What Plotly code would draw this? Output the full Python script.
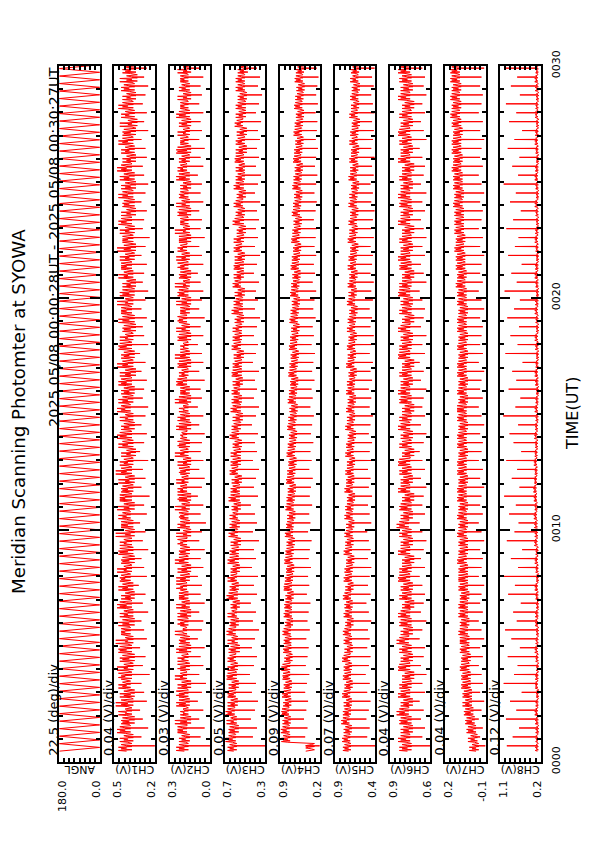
import plotly.graph_objects as go

# ---------------- data ----------------
start_sec = 28.0          # 2025 05/08 00:00:28 UT
end_sec = 1827.0          # 2025 05/08 00:30:27 UT
scan_sec = 23.06          # one photometer scan (one dip per scan)
angle_sweep_sec = 9.7     # one sweep of the scanning mirror
angle_turns = [180.0, 0.0]

ch1_base = [0.41,0.40,0.42,0.39,0.41,0.40,0.38,0.41,0.42,0.40,0.39,0.41,0.40,0.42,0.39,0.40,0.41,0.38,0.40,0.42,
            0.41,0.39,0.40,0.41,0.38,0.40,0.41,0.39,0.42,0.40,0.39,0.41,0.40,0.38,0.40,0.41,0.39,0.40,0.42,0.40,
            0.39,0.41,0.38,0.40,0.39,0.41,0.40,0.38,0.39,0.41,0.40,0.39,0.38,0.40,0.41,0.39,0.38,0.40,0.39,0.41,
            0.38,0.39,0.40,0.38,0.39,0.41,0.38,0.39,0.40,0.38,0.37,0.39,0.40,0.38,0.39,0.37,0.38,0.39]
ch1_jit = [0.45,0.43,0.46,0.44,0.42,0.45,0.43,0.44,0.47,0.43,0.44,0.46,0.42,0.45,0.44,0.43,0.46,0.42,0.44,0.45,
           0.43,0.44,0.46,0.43,0.42,0.45,0.44,0.43,0.46,0.44,0.42,0.45,0.43,0.41,0.44,0.46,0.43,0.42,0.45,0.44,
           0.43,0.45,0.42,0.44,0.43,0.46,0.42,0.43,0.44,0.45,0.42,0.44,0.41,0.43,0.45,0.42,0.43,0.44,0.42,0.45,
           0.41,0.43,0.44,0.42,0.43,0.45,0.41,0.42,0.44,0.43,0.40,0.42,0.44,0.41,0.43,0.41,0.42,0.43]
ch1_low = [0.37,0.36,0.38,0.35,0.37,0.36,0.35,0.38,0.37,0.36,0.35,0.37,0.36,0.38,0.35,0.36,0.37,0.35,0.36,0.38,
           0.37,0.35,0.36,0.37,0.35,0.36,0.38,0.35,0.37,0.36,0.35,0.37,0.36,0.34,0.36,0.37,0.35,0.36,0.38,0.36,
           0.35,0.37,0.34,0.36,0.35,0.37,0.36,0.34,0.35,0.37,0.36,0.35,0.34,0.36,0.37,0.35,0.34,0.36,0.35,0.37,
           0.34,0.35,0.36,0.34,0.35,0.37,0.34,0.35,0.36,0.34,0.33,0.35,0.36,0.34,0.35,0.33,0.34,0.35]
ch1_high = [0.47,0.46,0.48,0.45,0.47,0.49,0.46,0.47,0.45,0.48,0.46,0.47,0.49,0.45,0.47,0.46,0.48,0.45,0.47,0.46,
            0.48,0.45,0.47,0.46,0.49,0.45,0.47,0.48,0.46,0.45,0.47,0.49,0.46,0.45,0.47,0.48,0.45,0.46,0.48,0.47,
            0.45,0.47,0.46,0.48,0.45,0.47,0.46,0.44,0.47,0.45,0.48,0.46,0.44,0.47,0.45,0.46,0.48,0.44,0.46,0.47,
            0.45,0.44,0.47,0.45,0.46,0.48,0.44,0.45,0.47,0.44,0.46,0.45,0.47,0.44,0.45,0.46,0.44,0.45]
ch1_dip = [0.20,0.30,0.25,0.29,0.31,0.26,0.28,0.30,0.24,0.29,0.27,0.31,0.26,0.28,0.30,0.25,0.29,0.27,0.32,0.26,
           0.28,0.30,0.25,0.29,0.27,0.31,0.26,0.28,0.24,0.30,0.27,0.29,0.25,0.31,0.28,0.26,0.30,0.27,0.25,0.29,
           0.28,0.26,0.30,0.27,0.31,0.25,0.28,0.29,0.26,0.30,0.27,0.25,0.29,0.28,0.26,0.30,0.27,0.24,0.29,0.28,
           0.26,0.30,0.27,0.25,0.28,0.29,0.26,0.27,0.30,0.25,0.28,0.26,0.29,0.27,0.25,0.28,0.26,0.27]

ch2_base = [0.19,0.18,0.20,0.17,0.19,0.18,0.19,0.17,0.20,0.18,0.19,0.17,0.18,0.20,0.19,0.17,0.18,0.19,0.20,0.18,
            0.17,0.19,0.18,0.20,0.17,0.18,0.19,0.18,0.17,0.20,0.19,0.18,0.17,0.19,0.18,0.20,0.17,0.18,0.19,0.17,
            0.18,0.20,0.19,0.17,0.18,0.19,0.17,0.18,0.20,0.18,0.17,0.19,0.18,0.17,0.19,0.18,0.20,0.17,0.18,0.19,
            0.17,0.18,0.19,0.17,0.18,0.20,0.18,0.17,0.19,0.18,0.17,0.18,0.19,0.17,0.18,0.19,0.17,0.18]
ch2_jit = [0.23,0.21,0.24,0.22,0.20,0.23,0.25,0.21,0.22,0.24,0.21,0.23,0.22,0.20,0.24,0.22,0.21,0.23,0.25,0.22,
           0.21,0.23,0.22,0.24,0.20,0.22,0.23,0.21,0.24,0.22,0.21,0.23,0.20,0.22,0.24,0.21,0.23,0.22,0.20,0.23,
           0.22,0.24,0.21,0.23,0.22,0.20,0.23,0.21,0.24,0.22,0.21,0.23,0.20,0.22,0.24,0.21,0.22,0.23,0.20,0.22,
           0.23,0.21,0.22,0.20,0.23,0.22,0.21,0.24,0.22,0.20,0.21,0.23,0.22,0.20,0.21,0.22,0.20,0.21]
ch2_low = [0.16,0.15,0.17,0.14,0.16,0.15,0.16,0.14,0.17,0.15,0.16,0.14,0.15,0.17,0.16,0.14,0.15,0.16,0.17,0.15,
           0.14,0.16,0.15,0.17,0.14,0.15,0.16,0.15,0.14,0.17,0.16,0.15,0.14,0.16,0.15,0.17,0.14,0.15,0.16,0.14,
           0.15,0.17,0.16,0.14,0.15,0.16,0.14,0.15,0.17,0.15,0.14,0.16,0.15,0.14,0.16,0.15,0.17,0.14,0.15,0.16,
           0.14,0.15,0.16,0.14,0.15,0.17,0.15,0.14,0.16,0.15,0.14,0.15,0.16,0.14,0.15,0.16,0.14,0.15]
ch2_high = [0.25,0.23,0.24,0.26,0.22,0.25,0.23,0.24,0.26,0.22,0.24,0.25,0.23,0.26,0.22,0.24,0.25,0.23,0.22,0.25,
            0.24,0.26,0.23,0.22,0.25,0.24,0.22,0.26,0.23,0.24,0.25,0.22,0.24,0.26,0.23,0.22,0.25,0.24,0.23,0.26,
            0.22,0.25,0.23,0.24,0.26,0.22,0.24,0.25,0.23,0.22,0.25,0.24,0.26,0.23,0.22,0.25,0.24,0.23,0.26,0.22,
            0.24,0.25,0.23,0.22,0.25,0.24,0.23,0.25,0.22,0.24,0.23,0.25,0.22,0.24,0.23,0.22,0.24,0.23]
ch2_dip = [0.00,0.07,0.04,0.08,0.05,0.09,0.06,0.03,0.08,0.05,0.07,0.04,0.09,0.06,0.05,0.08,0.04,0.07,0.06,0.09,
           0.05,0.07,0.04,0.08,0.06,0.03,0.07,0.05,0.09,0.06,0.04,0.08,0.05,0.07,0.06,0.04,0.08,0.05,0.09,0.06,
           0.07,0.04,0.08,0.05,0.06,0.09,0.05,0.07,0.04,0.08,0.06,0.05,0.07,0.09,0.05,0.06,0.08,0.04,0.07,0.06,
           0.08,0.05,0.07,0.06,0.09,0.05,0.07,0.04,0.08,0.06,0.07,0.05,0.08,0.06,0.07,0.05,0.08,0.06]

ch3_base = [0.61,0.62,0.60,0.61,0.63,0.60,0.61,0.59,0.62,0.60,0.61,0.59,0.60,0.62,0.59,0.60,0.58,0.61,0.59,0.60,
            0.58,0.60,0.59,0.57,0.60,0.58,0.59,0.57,0.59,0.58,0.56,0.59,0.57,0.58,0.56,0.58,0.57,0.55,0.58,0.56,
            0.57,0.55,0.57,0.56,0.54,0.57,0.55,0.56,0.54,0.56,0.55,0.53,0.56,0.54,0.55,0.53,0.55,0.54,0.52,0.55,
            0.53,0.54,0.52,0.55,0.53,0.52,0.54,0.52,0.53,0.51,0.54,0.52,0.53,0.51,0.52,0.53,0.51,0.52]
ch3_jit = [0.65,0.66,0.65,0.64,0.67,0.64,0.66,0.63,0.67,0.64,0.65,0.64,0.63,0.66,0.64,0.63,0.62,0.66,0.63,0.64,
           0.62,0.65,0.63,0.61,0.64,0.63,0.62,0.61,0.64,0.62,0.60,0.63,0.62,0.61,0.60,0.63,0.61,0.59,0.62,0.61,
           0.61,0.59,0.62,0.60,0.58,0.61,0.60,0.59,0.58,0.61,0.59,0.57,0.60,0.58,0.60,0.57,0.59,0.58,0.56,0.60,
           0.57,0.59,0.56,0.59,0.57,0.56,0.59,0.56,0.57,0.55,0.58,0.56,0.57,0.55,0.57,0.57,0.55,0.56]
ch3_low = [0.58,0.59,0.56,0.58,0.60,0.57,0.59,0.56,0.58,0.57,0.59,0.55,0.57,0.59,0.56,0.58,0.55,0.57,0.56,0.58,
           0.55,0.56,0.56,0.54,0.57,0.55,0.57,0.54,0.55,0.55,0.53,0.57,0.54,0.54,0.53,0.56,0.54,0.52,0.54,0.53,
           0.55,0.52,0.53,0.53,0.51,0.54,0.53,0.53,0.51,0.52,0.52,0.50,0.54,0.51,0.51,0.50,0.53,0.51,0.49,0.51,
           0.50,0.52,0.49,0.51,0.50,0.50,0.51,0.48,0.50,0.48,0.52,0.49,0.49,0.48,0.50,0.50,0.47,0.49]
ch3_high = [0.67,0.69,0.66,0.68,0.69,0.67,0.67,0.66,0.68,0.67,0.67,0.66,0.67,0.68,0.65,0.67,0.64,0.68,0.65,0.67,
            0.64,0.67,0.65,0.64,0.66,0.65,0.65,0.63,0.66,0.64,0.63,0.65,0.64,0.64,0.62,0.65,0.63,0.62,0.64,0.63,
            0.63,0.62,0.63,0.62,0.61,0.63,0.62,0.62,0.60,0.63,0.61,0.60,0.62,0.61,0.61,0.60,0.61,0.61,0.58,0.62,
            0.59,0.61,0.58,0.61,0.59,0.59,0.60,0.59,0.59,0.58,0.60,0.59,0.59,0.57,0.59,0.59,0.57,0.58]
ch3_dip = [0.30,0.42,0.38,0.44,0.40,0.37,0.43,0.39,0.45,0.41,0.38,0.43,0.40,0.36,0.42,0.39,0.44,0.38,0.41,0.37,
           0.43,0.39,0.41,0.36,0.42,0.38,0.40,0.44,0.37,0.41,0.39,0.36,0.42,0.38,0.40,0.37,0.43,0.39,0.36,0.41,
           0.38,0.40,0.36,0.42,0.39,0.37,0.41,0.38,0.35,0.40,0.37,0.39,0.36,0.41,0.38,0.35,0.40,0.37,0.39,0.36,
           0.38,0.35,0.40,0.37,0.34,0.39,0.36,0.38,0.35,0.37,0.34,0.39,0.36,0.33,0.37,0.35,0.38,0.34]

ch4_base = [0.45,0.76,0.78,0.75,0.77,0.74,0.76,0.73,0.75,0.77,0.72,0.74,0.73,0.75,0.71,0.73,0.72,0.70,0.73,0.71,
            0.69,0.72,0.70,0.68,0.71,0.69,0.67,0.70,0.68,0.66,0.69,0.67,0.65,0.68,0.66,0.64,0.67,0.65,0.63,0.66,
            0.64,0.62,0.65,0.63,0.61,0.64,0.62,0.60,0.63,0.61,0.59,0.62,0.60,0.58,0.61,0.59,0.57,0.60,0.58,0.56,
            0.59,0.57,0.55,0.58,0.56,0.54,0.57,0.55,0.53,0.56,0.54,0.52,0.55,0.53,0.51,0.54,0.52,0.51]
ch4_jit = [0.35,0.84,0.85,0.82,0.86,0.81,0.83,0.80,0.84,0.85,0.79,0.82,0.81,0.83,0.78,0.81,0.80,0.77,0.82,0.78,
           0.77,0.80,0.78,0.75,0.79,0.77,0.74,0.78,0.76,0.73,0.77,0.74,0.73,0.76,0.73,0.71,0.75,0.72,0.70,0.74,
           0.71,0.70,0.73,0.70,0.68,0.72,0.69,0.67,0.71,0.68,0.66,0.70,0.67,0.65,0.69,0.66,0.64,0.68,0.65,0.63,
           0.67,0.64,0.62,0.66,0.63,0.61,0.65,0.62,0.60,0.64,0.61,0.59,0.63,0.60,0.58,0.62,0.59,0.58]
ch4_low = [0.30,0.72,0.73,0.71,0.74,0.70,0.71,0.69,0.72,0.72,0.68,0.70,0.70,0.71,0.67,0.69,0.69,0.66,0.69,0.67,
           0.65,0.68,0.66,0.64,0.67,0.66,0.63,0.66,0.64,0.62,0.65,0.63,0.61,0.64,0.62,0.60,0.63,0.61,0.59,0.62,
           0.60,0.58,0.61,0.59,0.57,0.60,0.58,0.56,0.59,0.57,0.55,0.58,0.56,0.54,0.57,0.55,0.53,0.56,0.54,0.52,
           0.55,0.53,0.51,0.54,0.52,0.50,0.53,0.51,0.49,0.52,0.50,0.48,0.51,0.49,0.47,0.50,0.48,0.47]
ch4_high = [0.40,0.87,0.88,0.85,0.87,0.84,0.86,0.83,0.85,0.87,0.82,0.84,0.83,0.85,0.81,0.83,0.82,0.80,0.83,0.81,
            0.79,0.82,0.80,0.78,0.81,0.79,0.77,0.80,0.78,0.76,0.79,0.77,0.75,0.78,0.76,0.74,0.77,0.75,0.73,0.76,
            0.74,0.72,0.75,0.73,0.71,0.74,0.72,0.70,0.73,0.71,0.69,0.72,0.70,0.68,0.71,0.69,0.67,0.70,0.68,0.66,
            0.69,0.67,0.65,0.68,0.66,0.64,0.67,0.65,0.63,0.66,0.64,0.62,0.65,0.63,0.61,0.64,0.62,0.61]
ch4_dip = [0.21,0.46,0.42,0.48,0.44,0.41,0.46,0.43,0.39,0.45,0.42,0.40,0.44,0.38,0.42,0.40,0.37,0.43,0.39,0.41,
           0.36,0.40,0.38,0.35,0.41,0.37,0.39,0.34,0.38,0.36,0.33,0.39,0.35,0.37,0.32,0.36,0.34,0.31,0.37,0.33,
           0.35,0.30,0.34,0.32,0.29,0.35,0.31,0.33,0.28,0.32,0.30,0.27,0.33,0.29,0.31,0.27,0.30,0.28,0.26,0.31,
           0.28,0.26,0.30,0.27,0.25,0.29,0.27,0.24,0.28,0.26,0.25,0.28,0.24,0.27,0.25,0.23,0.26,0.24]

ch5_base = [0.73,0.74,0.72,0.75,0.73,0.72,0.74,0.71,0.73,0.72,0.74,0.71,0.72,0.73,0.70,0.72,0.71,0.73,0.70,0.72,
            0.71,0.69,0.72,0.70,0.71,0.69,0.71,0.70,0.68,0.71,0.69,0.70,0.68,0.70,0.69,0.67,0.70,0.68,0.69,0.67,
            0.69,0.68,0.66,0.69,0.67,0.68,0.66,0.68,0.67,0.65,0.68,0.66,0.67,0.65,0.67,0.66,0.64,0.67,0.65,0.66,
            0.64,0.66,0.65,0.63,0.66,0.64,0.65,0.63,0.65,0.64,0.62,0.65,0.63,0.64,0.62,0.64,0.63,0.62]
ch5_jit = [0.78,0.79,0.77,0.80,0.78,0.76,0.79,0.76,0.78,0.77,0.79,0.75,0.77,0.78,0.75,0.77,0.76,0.78,0.74,0.77,
           0.76,0.74,0.77,0.75,0.76,0.73,0.76,0.75,0.73,0.76,0.74,0.75,0.72,0.75,0.74,0.72,0.75,0.72,0.74,0.72,
           0.74,0.72,0.71,0.74,0.71,0.73,0.71,0.72,0.72,0.70,0.73,0.70,0.72,0.70,0.71,0.71,0.69,0.72,0.69,0.71,
           0.69,0.71,0.69,0.68,0.71,0.68,0.70,0.68,0.69,0.69,0.67,0.70,0.67,0.69,0.67,0.68,0.68,0.66]
ch5_low = [0.70,0.71,0.69,0.72,0.70,0.69,0.71,0.68,0.70,0.69,0.71,0.68,0.69,0.70,0.67,0.69,0.68,0.70,0.67,0.69,
           0.68,0.66,0.69,0.67,0.68,0.66,0.68,0.67,0.65,0.68,0.66,0.67,0.65,0.67,0.66,0.64,0.67,0.65,0.66,0.64,
           0.66,0.65,0.63,0.66,0.64,0.65,0.63,0.65,0.64,0.62,0.65,0.63,0.64,0.62,0.64,0.63,0.61,0.64,0.62,0.63,
           0.61,0.63,0.62,0.60,0.63,0.61,0.62,0.60,0.62,0.61,0.59,0.62,0.60,0.61,0.59,0.61,0.60,0.59]
ch5_high = [0.80,0.81,0.79,0.82,0.80,0.79,0.81,0.78,0.80,0.79,0.81,0.78,0.79,0.80,0.77,0.79,0.78,0.80,0.77,0.79,
            0.78,0.76,0.79,0.77,0.78,0.76,0.78,0.77,0.75,0.78,0.76,0.77,0.75,0.77,0.76,0.74,0.77,0.75,0.76,0.74,
            0.76,0.75,0.73,0.76,0.74,0.75,0.73,0.75,0.74,0.72,0.75,0.73,0.74,0.72,0.74,0.73,0.71,0.74,0.72,0.73,
            0.71,0.73,0.72,0.70,0.73,0.71,0.72,0.70,0.72,0.71,0.69,0.72,0.70,0.71,0.69,0.71,0.70,0.69]
ch5_dip = [0.40,0.50,0.47,0.51,0.48,0.46,0.50,0.47,0.52,0.48,0.46,0.50,0.47,0.49,0.45,0.48,0.51,0.46,0.49,0.47,
           0.45,0.49,0.46,0.48,0.50,0.45,0.47,0.49,0.44,0.48,0.46,0.49,0.45,0.47,0.44,0.48,0.46,0.43,0.47,0.45,
           0.48,0.44,0.46,0.43,0.47,0.45,0.42,0.46,0.44,0.47,0.43,0.45,0.42,0.46,0.44,0.43,0.46,0.42,0.45,0.43,
           0.41,0.45,0.43,0.46,0.42,0.44,0.41,0.45,0.43,0.42,0.44,0.41,0.43,0.45,0.42,0.44,0.41,0.43]

ch6_base = [0.77,0.78,0.76,0.77,0.79,0.76,0.78,0.77,0.75,0.78,0.76,0.77,0.79,0.76,0.77,0.78,0.75,0.77,0.76,0.78,
            0.77,0.75,0.78,0.76,0.77,0.79,0.76,0.77,0.75,0.78,0.76,0.77,0.78,0.75,0.77,0.76,0.78,0.77,0.75,0.77,
            0.78,0.76,0.77,0.75,0.78,0.77,0.76,0.78,0.75,0.77,0.76,0.78,0.77,0.75,0.77,0.78,0.76,0.77,0.75,0.78,
            0.76,0.77,0.78,0.76,0.77,0.75,0.78,0.76,0.77,0.78,0.76,0.77,0.75,0.78,0.76,0.77,0.78,0.76]
ch6_jit = [0.81,0.82,0.80,0.82,0.83,0.80,0.82,0.81,0.79,0.83,0.80,0.81,0.83,0.80,0.82,0.82,0.79,0.81,0.80,0.83,
           0.81,0.79,0.82,0.80,0.81,0.83,0.80,0.82,0.79,0.82,0.80,0.81,0.83,0.79,0.81,0.80,0.82,0.81,0.79,0.82,
           0.82,0.80,0.81,0.79,0.83,0.81,0.80,0.82,0.79,0.81,0.80,0.83,0.81,0.79,0.82,0.82,0.80,0.81,0.79,0.82,
           0.80,0.82,0.82,0.80,0.81,0.79,0.82,0.80,0.81,0.83,0.80,0.81,0.79,0.82,0.80,0.81,0.82,0.80]
ch6_low = [0.74,0.75,0.73,0.74,0.76,0.73,0.75,0.74,0.72,0.75,0.73,0.74,0.76,0.73,0.74,0.75,0.72,0.74,0.73,0.75,
           0.74,0.72,0.75,0.73,0.74,0.76,0.73,0.74,0.72,0.75,0.73,0.74,0.75,0.72,0.74,0.73,0.75,0.74,0.72,0.74,
           0.75,0.73,0.74,0.72,0.75,0.74,0.73,0.75,0.72,0.74,0.73,0.75,0.74,0.72,0.74,0.75,0.73,0.74,0.72,0.75,
           0.73,0.74,0.75,0.73,0.74,0.72,0.75,0.73,0.74,0.75,0.73,0.74,0.72,0.75,0.73,0.74,0.75,0.73]
ch6_high = [0.83,0.84,0.82,0.83,0.85,0.82,0.84,0.83,0.81,0.84,0.82,0.83,0.85,0.82,0.83,0.84,0.81,0.83,0.82,0.84,
            0.83,0.81,0.84,0.82,0.83,0.85,0.82,0.83,0.81,0.84,0.82,0.83,0.84,0.81,0.83,0.82,0.84,0.83,0.81,0.83,
            0.84,0.82,0.83,0.81,0.84,0.83,0.82,0.84,0.81,0.83,0.82,0.84,0.83,0.81,0.83,0.84,0.82,0.83,0.81,0.84,
            0.82,0.83,0.84,0.82,0.83,0.81,0.84,0.82,0.83,0.84,0.82,0.83,0.81,0.84,0.82,0.83,0.84,0.82]
ch6_dip = [0.60,0.66,0.64,0.67,0.65,0.68,0.64,0.66,0.63,0.67,0.65,0.64,0.68,0.66,0.63,0.67,0.65,0.64,0.66,0.68,
           0.64,0.67,0.65,0.63,0.66,0.68,0.64,0.66,0.65,0.63,0.67,0.64,0.66,0.68,0.65,0.63,0.67,0.64,0.66,0.65,
           0.63,0.67,0.65,0.68,0.64,0.66,0.63,0.67,0.65,0.64,0.66,0.68,0.63,0.65,0.67,0.64,0.66,0.63,0.65,0.67,
           0.64,0.66,0.63,0.67,0.65,0.64,0.66,0.68,0.63,0.65,0.67,0.64,0.66,0.63,0.65,0.64,0.66,0.64]

ch7_base = [-0.03,-0.02,-0.01,0.00,0.01,0.02,0.02,0.03,0.03,0.04,0.03,0.04,0.04,0.05,0.04,0.05,0.05,0.04,0.05,0.05,
            0.05,0.06,0.05,0.05,0.06,0.05,0.06,0.05,0.06,0.06,0.05,0.06,0.06,0.05,0.06,0.06,0.05,0.06,0.06,0.05,
            0.06,0.05,0.06,0.06,0.05,0.06,0.05,0.06,0.06,0.05,0.06,0.06,0.07,0.06,0.07,0.07,0.08,0.07,0.08,0.08,
            0.08,0.09,0.08,0.09,0.09,0.10,0.09,0.10,0.10,0.09,0.10,0.11,0.10,0.11,0.10,0.11,0.11,0.10]
ch7_jit = [0.00,0.01,0.03,0.04,0.05,0.05,0.06,0.07,0.07,0.08,0.07,0.08,0.09,0.09,0.08,0.09,0.09,0.08,0.09,0.10,
           0.09,0.10,0.09,0.09,0.10,0.09,0.10,0.09,0.10,0.10,0.09,0.10,0.10,0.09,0.10,0.10,0.09,0.10,0.11,0.09,
           0.10,0.09,0.10,0.10,0.09,0.10,0.09,0.10,0.10,0.09,0.10,0.10,0.11,0.10,0.11,0.11,0.12,0.11,0.12,0.12,
           0.12,0.13,0.12,0.13,0.13,0.14,0.13,0.14,0.14,0.13,0.14,0.15,0.14,0.15,0.14,0.15,0.15,0.14]
ch7_low = [-0.05,-0.04,-0.03,-0.02,-0.01,0.00,0.00,0.01,0.01,0.02,0.01,0.02,0.02,0.03,0.02,0.03,0.03,0.02,0.03,0.03,
           0.03,0.04,0.03,0.03,0.04,0.03,0.04,0.03,0.04,0.04,0.03,0.04,0.04,0.03,0.04,0.04,0.03,0.04,0.04,0.03,
           0.04,0.03,0.04,0.04,0.03,0.04,0.03,0.04,0.04,0.03,0.04,0.04,0.05,0.04,0.05,0.05,0.06,0.05,0.06,0.06,
           0.06,0.07,0.06,0.07,0.07,0.08,0.07,0.08,0.08,0.07,0.08,0.09,0.08,0.09,0.08,0.09,0.09,0.08]
ch7_high = [0.02,0.03,0.04,0.05,0.06,0.07,0.07,0.08,0.08,0.09,0.08,0.09,0.09,0.10,0.09,0.10,0.10,0.09,0.10,0.10,
            0.10,0.11,0.10,0.10,0.11,0.10,0.11,0.10,0.11,0.11,0.10,0.11,0.11,0.10,0.11,0.11,0.10,0.11,0.11,0.10,
            0.11,0.10,0.11,0.11,0.10,0.11,0.10,0.11,0.11,0.10,0.11,0.11,0.12,0.11,0.12,0.12,0.13,0.12,0.13,0.13,
            0.13,0.14,0.13,0.14,0.14,0.15,0.14,0.15,0.15,0.14,0.15,0.16,0.15,0.16,0.15,0.16,0.16,0.15]
ch7_dip = [-0.10,-0.06,-0.08,-0.05,-0.07,-0.09,-0.06,-0.08,-0.07,-0.05,-0.08,-0.06,-0.09,-0.07,-0.05,-0.08,-0.06,-0.07,-0.09,-0.05,
           -0.07,-0.08,-0.06,-0.09,-0.07,-0.05,-0.08,-0.06,-0.07,-0.09,-0.06,-0.08,-0.05,-0.07,-0.08,-0.06,-0.09,-0.07,-0.05,-0.08,
           -0.06,-0.07,-0.09,-0.05,-0.08,-0.06,-0.07,-0.08,-0.06,-0.09,-0.07,-0.05,-0.08,-0.06,-0.07,-0.09,-0.06,-0.08,-0.05,-0.07,
           -0.08,-0.06,-0.09,-0.07,-0.05,-0.08,-0.06,-0.07,-0.09,-0.06,-0.08,-0.05,-0.07,-0.08,-0.06,-0.07,-0.09,-0.06]

ch8_base = [0.27,0.28,0.26,0.27,0.28,0.27,0.26,0.28,0.27,0.26,0.27,0.28,0.27,0.26,0.28,0.27,0.26,0.27,0.28,0.26,
            0.27,0.28,0.27,0.29,0.28,0.29,0.30,0.29,0.30,0.31,0.30,0.29,0.30,0.29,0.28,0.29,0.28,0.27,0.28,0.27,
            0.26,0.27,0.28,0.27,0.26,0.27,0.28,0.26,0.27,0.28,0.27,0.26,0.27,0.28,0.27,0.26,0.27,0.28,0.27,0.26,
            0.27,0.28,0.26,0.27,0.28,0.27,0.26,0.27,0.28,0.27,0.26,0.28,0.27,0.26,0.27,0.28,0.27,0.26]
ch8_jit = [0.30,0.30,0.29,0.30,0.31,0.29,0.29,0.31,0.30,0.28,0.30,0.31,0.29,0.29,0.31,0.30,0.28,0.30,0.31,0.29,
           0.30,0.31,0.30,0.32,0.31,0.32,0.33,0.32,0.33,0.34,0.33,0.32,0.33,0.32,0.31,0.32,0.31,0.30,0.31,0.30,
           0.29,0.30,0.31,0.30,0.29,0.30,0.31,0.29,0.30,0.31,0.30,0.29,0.30,0.31,0.30,0.29,0.30,0.31,0.30,0.29,
           0.30,0.31,0.29,0.30,0.31,0.30,0.29,0.30,0.31,0.30,0.29,0.31,0.30,0.29,0.30,0.31,0.30,0.29]
ch8_low = [0.25,0.26,0.24,0.25,0.26,0.25,0.24,0.26,0.25,0.24,0.25,0.26,0.25,0.24,0.26,0.25,0.24,0.25,0.26,0.24,
           0.25,0.26,0.25,0.27,0.26,0.27,0.28,0.27,0.28,0.29,0.28,0.27,0.28,0.27,0.26,0.27,0.26,0.25,0.26,0.25,
           0.24,0.25,0.26,0.25,0.24,0.25,0.26,0.24,0.25,0.26,0.25,0.24,0.25,0.26,0.25,0.24,0.25,0.26,0.25,0.24,
           0.25,0.26,0.24,0.25,0.26,0.25,0.24,0.25,0.26,0.25,0.24,0.26,0.25,0.24,0.25,0.26,0.25,0.24]
ch8_high = [0.32,0.31,0.31,0.32,0.33,0.31,0.30,0.32,0.32,0.30,0.31,0.33,0.31,0.30,0.32,0.32,0.30,0.31,0.33,0.30,
            0.31,0.33,0.31,0.34,0.33,0.34,0.35,0.33,0.35,0.36,0.34,0.33,0.35,0.33,0.32,0.34,0.32,0.31,0.33,0.31,
            0.30,0.32,0.33,0.31,0.30,0.32,0.33,0.30,0.31,0.33,0.32,0.30,0.31,0.33,0.32,0.30,0.31,0.33,0.32,0.30,
            0.31,0.33,0.30,0.31,0.33,0.32,0.30,0.31,0.33,0.32,0.30,0.32,0.31,0.30,0.32,0.33,0.31,0.30]
ch8_spike = [0.95,0.82,0.68,0.97,0.74,0.88,0.62,1.02,0.79,0.71,0.93,0.66,0.85,0.99,0.73,0.81,0.64,0.92,0.77,1.04,
             0.70,0.86,0.61,0.95,0.78,0.69,0.90,0.75,1.01,0.67,0.84,0.72,0.96,0.63,0.80,0.89,0.70,1.03,0.76,0.65,
             0.91,0.74,0.83,0.60,0.98,0.71,0.87,0.68,0.94,0.79,0.66,1.00,0.73,0.85,0.62,0.92,0.77,0.69,0.96,0.81,
             0.64,0.88,0.75,1.02,0.70,0.83,0.67,0.93,0.78,0.61,0.90,0.74,0.97,0.66,0.86,0.72,0.99,0.68]

channel_names = ["ANGL", "CH1(V)", "CH2(V)", "CH3(V)", "CH4(V)", "CH5(V)", "CH6(V)", "CH7(V)", "CH8(V)"]
div_labels = ["22.5 (deg)/div", "0.04 (V)/div", "0.03 (V)/div", "0.05 (V)/div", "0.09 (V)/div",
              "0.07 (V)/div", "0.04 (V)/div", "0.04 (V)/div", "0.12 (V)/div"]
axis_hi = [180.0, 0.5, 0.3, 0.7, 0.9, 0.9, 0.9, 0.2, 1.1]
axis_lo = [0.0, 0.2, 0.0, 0.3, 0.2, 0.4, 0.6, -0.1, 0.2]
hi_text = ["180.0", "0.5", "0.3", "0.7", "0.9", "0.9", "0.9", "0.2", "1.1"]
lo_text = ["0.0", "0.2", "0.0", "0.3", "0.2", "0.4", "0.6", "-0.1", "0.2"]
time_ticks = [0, 10, 20, 30]
time_text = ["0000", "0010", "0020", "0030"]

title_text = "Meridian Scanning Photomter at SYOWA"
period_text = "2025 05/08 00:00:28UT - 2025 05/08 00:30:27UT"
time_title = "TIME(UT)"

# ---------------- build series ----------------
# order in which the readings of one scan are traced
SCAN_STEPS = [(0.00, "a"), (0.08, "e"), (0.16, "c"), (0.26, "b"), (0.36, "a"), (0.44, "e"),
              (0.52, "c"), (0.58, "a"), (0.60, "d"), (0.62, "a"), (0.74, "b"), (0.86, "c")]

def scan_series(base, jit, low, high, dip):
    xs, ys = [], []
    for i, (a, b, c, e, d) in enumerate(zip(base, jit, low, high, dip)):
        vals = {"a": a, "b": b, "c": c, "e": e, "d": d}
        t0 = start_sec + i * scan_sec
        for frac, key in SCAN_STEPS:
            ys.append((t0 + frac * scan_sec) / 60.0)
            xs.append(vals[key])
    return xs, ys

ang_x, ang_y = [], []
k = 0
t = start_sec
while t <= end_sec:
    ang_x.append(angle_turns[k % 2])
    ang_y.append(t / 60.0)
    k += 1
    t = start_sec + k * angle_sweep_sec

series = [(ang_x, ang_y),
          scan_series(ch1_base, ch1_jit, ch1_low, ch1_high, ch1_dip),
          scan_series(ch2_base, ch2_jit, ch2_low, ch2_high, ch2_dip),
          scan_series(ch3_base, ch3_jit, ch3_low, ch3_high, ch3_dip),
          scan_series(ch4_base, ch4_jit, ch4_low, ch4_high, ch4_dip),
          scan_series(ch5_base, ch5_jit, ch5_low, ch5_high, ch5_dip),
          scan_series(ch6_base, ch6_jit, ch6_low, ch6_high, ch6_dip),
          scan_series(ch7_base, ch7_jit, ch7_low, ch7_high, ch7_dip),
          scan_series(ch8_base, ch8_jit, ch8_low, ch8_high, ch8_spike)]

# ---------------- layout geometry (page pixels) ----------------
PAGE_OFF = 8                    # default body margin of the html page
W, H = 595 - PAGE_OFF, 842 - PAGE_OFF
TOP, BOT = 66, 762
LEFT0, PITCH, PW = 59.3, 55.1, 40.5
FONT = "DejaVu Sans"

def px(xp):
    return (xp - PAGE_OFF) / W

def py(yp):
    return 1 - (yp - PAGE_OFF) / H

fig = go.Figure()
layout = dict(width=W, height=H, margin=dict(l=0, r=0, t=0, b=0),
              paper_bgcolor="white", plot_bgcolor="white",
              showlegend=False, hovermode=False)
annotations = []

for k in range(9):
    sfx = "" if k == 0 else str(k + 1)
    xs, ys = series[k]
    fig.add_trace(go.Scatter(x=xs, y=ys, mode="lines",
                             line=dict(color="#ff0000", width=1),
                             xaxis="x" + sfx, yaxis="y" + sfx))
    left = LEFT0 + k * PITCH
    hi, lo = axis_hi[k], axis_lo[k]
    span = hi - lo
    layout["xaxis" + sfx] = dict(
        domain=[px(left), px(left + PW)], anchor="y" + sfx,
        range=[hi, lo], showgrid=False, zeroline=False,
        showline=True, linecolor="black", linewidth=2, mirror="ticks",
        ticks="inside", ticklen=0,
        tickvals=[hi - 0.08 * span, lo + 0.08 * span], ticktext=[hi_text[k], lo_text[k]],
        tickangle=-90, tickfont=dict(family=FONT, size=11, color="black"),
        ticklabelstandoff=12,
        minor=dict(tickvals=[lo + j * span / 8 for j in range(9)], ticks="inside",
                   ticklen=4, tickwidth=1.5, tickcolor="black"),
        automargin=False, fixedrange=True)
    last = (k == 8)
    layout["yaxis" + sfx] = dict(
        domain=[py(BOT), py(TOP)], anchor="x" + sfx,
        range=[0, 30], showgrid=False, zeroline=False,
        showline=True, linecolor="black", linewidth=2, mirror="ticks",
        ticks="inside", ticklen=10, tickwidth=2, tickcolor="black",
        tickvals=time_ticks, ticktext=time_text,
        showticklabels=last, side="right" if last else "left",
        tickangle=-90, tickfont=dict(family=FONT, size=11, color="black"),
        ticklabelstandoff=4,
        minor=dict(dtick=1, ticks="inside", ticklen=4, tickwidth=2, tickcolor="black"),
        automargin=False, fixedrange=True)
    annotations.append(dict(x=px(left + PW / 2), y=py(770), xref="paper", yref="paper",
                            text=channel_names[k], showarrow=False, textangle=180,
                            font=dict(family=FONT, size=11, color="black"),
                            xanchor="center", yanchor="middle"))
    annotations.append(dict(x=px(left - 6.5), y=py(758), xref="paper", yref="paper",
                            text=div_labels[k], showarrow=False, textangle=-90,
                            font=dict(family=FONT, size=13, color="black"),
                            xanchor="center", yanchor="bottom"))

annotations.append(dict(x=px(18), y=py(412), xref="paper", yref="paper",
                        text=title_text, showarrow=False, textangle=-90,
                        font=dict(family=FONT, size=18.2, color="black"),
                        xanchor="center", yanchor="middle"))
annotations.append(dict(x=px(54), y=py(65), xref="paper", yref="paper",
                        text=period_text, showarrow=False, textangle=-90,
                        font=dict(family=FONT, size=14.5, color="black"),
                        xanchor="center", yanchor="top"))
annotations.append(dict(x=px(572), y=py(414), xref="paper", yref="paper",
                        text=time_title, showarrow=False, textangle=-90,
                        font=dict(family=FONT, size=16, color="black"),
                        xanchor="center", yanchor="middle"))

layout["annotations"] = annotations
fig.update_layout(**layout)
fig.write_html("out.html")
